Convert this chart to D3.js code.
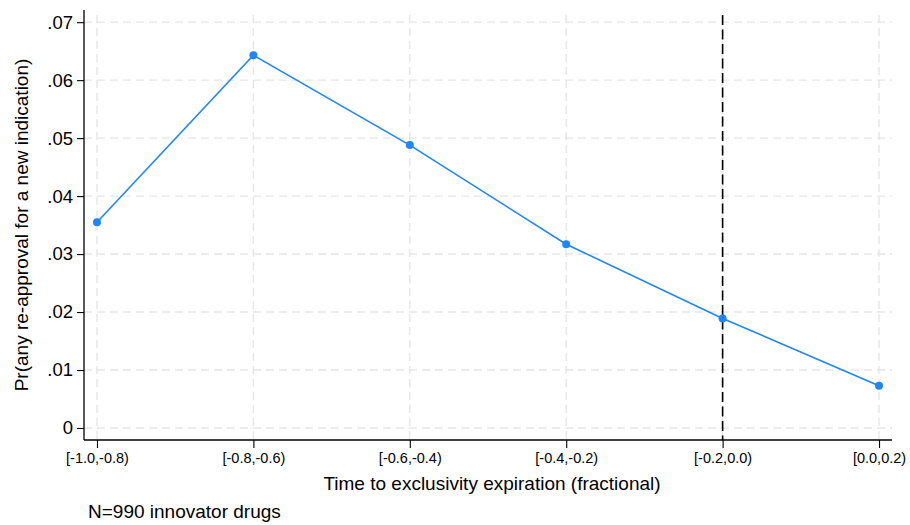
<!DOCTYPE html>
<html>
<head>
<meta charset="utf-8">
<script src="https://cdn.jsdelivr.net/npm/d3@7"></script>
<style>
  html, body { margin: 0; padding: 0; background: #fff; }
  svg { display: block; font-family: "Liberation Sans", Arial, Helvetica, sans-serif; }
</style>
</head>
<body>
<svg id="chart" width="910" height="525"></svg>
<script>
// Time bins (fraction of exclusivity period remaining)
const categories = ["[-1.0,-0.8)", "[-0.8,-0.6)", "[-0.6,-0.4)", "[-0.4,-0.2)", "[-0.2,0.0)", "[0.0,0.2)"];
// Share of drugs with any re-approval for a new indication in each bin
const probability = [0.0355, 0.0643, 0.0488, 0.0317, 0.0189, 0.0073];
const yTicks = [0, 0.01, 0.02, 0.03, 0.04, 0.05, 0.06, 0.07];
const yTickLabels = ["0", ".01", ".02", ".03", ".04", ".05", ".06", ".07"];
const expiryBin = 4; // reference line at the expiration bin

const svg = d3.select("#chart");
const plot = { left: 84, right: 892, top: 10, bottom: 440 };

const x = d3.scaleLinear().domain([-0.083, 5.083]).range([plot.left, plot.right]);
const y = d3.scaleLinear().domain([-0.00207, 0.0721]).range([plot.bottom, plot.top]);

// Grid
const grid = svg.append("g").attr("stroke", "#e6e6e6").attr("stroke-width", 1.4)
  .attr("stroke-dasharray", "8,5").attr("fill", "none");
grid.selectAll("line.h").data(yTicks).join("line").attr("class", "h")
  .attr("x1", plot.left).attr("x2", plot.right)
  .attr("y1", d => y(d)).attr("y2", d => y(d));
grid.selectAll("line.v").data(categories).join("line").attr("class", "v")
  .attr("x1", (d, i) => x(i)).attr("x2", (d, i) => x(i))
  .attr("y1", plot.top + 5).attr("y2", plot.bottom);

// Axes
const yAxis = d3.axisLeft(y).tickValues(yTicks).tickFormat((d, i) => yTickLabels[i])
  .tickSizeOuter(0).tickSizeInner(7).tickPadding(4);
const gy = svg.append("g").attr("transform", `translate(${plot.left},0)`).call(yAxis);
gy.select(".domain").attr("stroke", "#000").attr("stroke-width", 1.3)
  .attr("d", `M0,${plot.top}V${plot.bottom}`);
gy.selectAll(".tick line").attr("stroke", "#000").attr("stroke-width", 1.1);
gy.selectAll(".tick text").attr("font-size", 18.5).attr("fill", "#000")
  .attr("font-family", "Liberation Sans, Arial, sans-serif");

const xAxis = d3.axisBottom(x).tickValues(d3.range(categories.length))
  .tickFormat(i => categories[i]).tickSizeOuter(0).tickSizeInner(8).tickPadding(5);
const gx = svg.append("g").attr("transform", `translate(0,${plot.bottom})`).call(xAxis);
gx.select(".domain").attr("stroke", "#000").attr("stroke-width", 1.3)
  .attr("d", `M${plot.left},0H${plot.right}`);
gx.selectAll(".tick line").attr("stroke", "#000").attr("stroke-width", 1.1);
gx.selectAll(".tick text").attr("font-size", 14.5).attr("fill", "#000")
  .attr("font-family", "Liberation Sans, Arial, sans-serif");

// Reference line at expiration
svg.append("line")
  .attr("x1", x(expiryBin)).attr("x2", x(expiryBin))
  .attr("y1", plot.top + 5).attr("y2", plot.bottom)
  .attr("stroke", "#000").attr("stroke-width", 1.6).attr("stroke-dasharray", "10,4.5");

// Series
const color = "#1f86f8";
svg.append("path").datum(probability)
  .attr("fill", "none").attr("stroke", color).attr("stroke-width", 1.6)
  .attr("d", d3.line().x((d, i) => x(i)).y(d => y(d)));
svg.selectAll("circle.pt").data(probability).join("circle").attr("class", "pt")
  .attr("cx", (d, i) => x(i)).attr("cy", d => y(d)).attr("r", 4).attr("fill", color);

// Titles
svg.append("text").attr("x", (plot.left + plot.right) / 2 + 4).attr("y", 490)
  .attr("text-anchor", "middle").attr("font-size", 19).attr("fill", "#000")
  .text("Time to exclusivity expiration (fractional)");
svg.append("text")
  .attr("transform", `translate(28,${(plot.top + plot.bottom) / 2}) rotate(-90)`)
  .attr("text-anchor", "middle").attr("font-size", 19).attr("fill", "#000")
  .text("Pr(any re-approval for a new indication)");
svg.append("text").attr("x", 88).attr("y", 518)
  .attr("font-size", 19).attr("fill", "#000")
  .text("N=990 innovator drugs");
</script>
</body>
</html>
